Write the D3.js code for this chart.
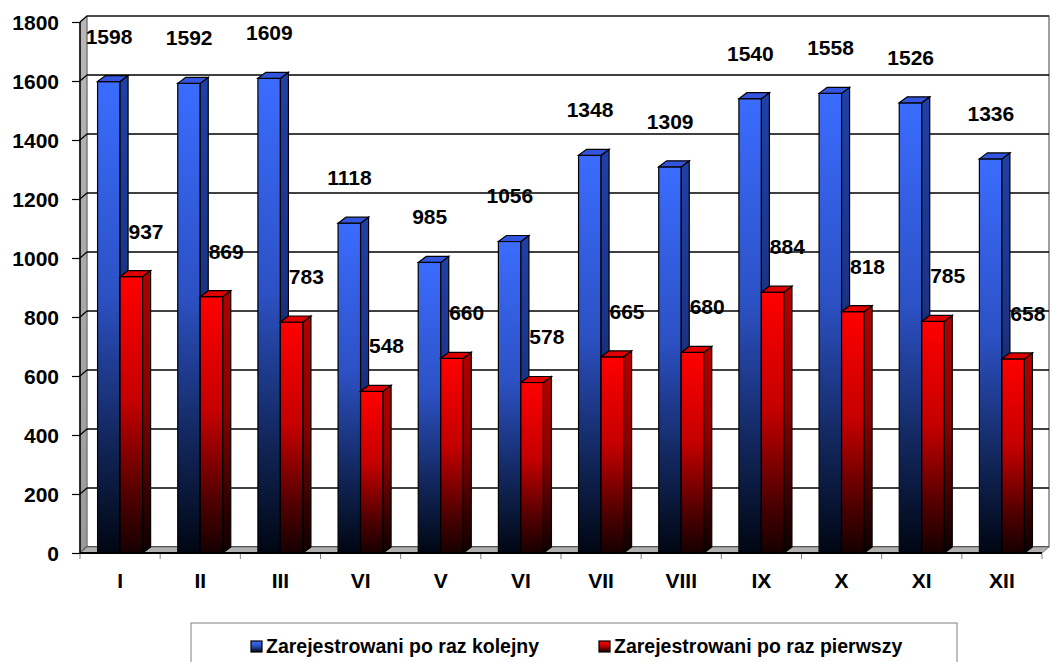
<!DOCTYPE html>
<html>
<head>
<meta charset="utf-8">
<script src="https://cdn.jsdelivr.net/npm/d3@7"></script>
<style>
  body { margin: 0; background: #fff; }
  svg text { font-family: "Liberation Sans", Arial, sans-serif; font-weight: bold; fill: #000; }
</style>
</head>
<body>
<svg id="chart" width="1054" height="662"></svg>
<script>
const months = ['I', 'II', 'III', 'VI', 'V', 'VI', 'VII', 'VIII', 'IX', 'X', 'XI', 'XII'];
const kolejny = [1598, 1592, 1609, 1118, 985, 1056, 1348, 1309, 1540, 1558, 1526, 1336];
const pierwszy = [937, 869, 783, 548, 660, 578, 665, 680, 884, 818, 785, 658];
const yTicks = [0, 200, 400, 600, 800, 1000, 1200, 1400, 1600, 1800];
const seriesNames = ['Zarejestrowani po raz kolejny', 'Zarejestrowani po raz pierwszy'];

const svg = d3.select('#chart');
const plotLeft = 80, plotRight = 1042, plotBottom = 553, plotTop = 22;
const wallDx = 7, wallDy = -6;   // depth of the walls
const barDx = 8, barDy = -6;     // depth of each column

const x = d3.scaleBand().domain(d3.range(months.length)).range([plotLeft, plotRight]);
const inner = d3.scaleBand().domain([0, 1]).range([0, x.bandwidth()]).paddingOuter(0.78);
const y = d3.scaleLinear().domain([0, 1800]).range([plotBottom, plotTop]);

// gradients
const defs = svg.append('defs');
function grad(id, stops) {
  const g = defs.append('linearGradient').attr('id', id)
    .attr('x1', 0).attr('y1', 0).attr('x2', 0).attr('y2', 1);
  stops.forEach(([o, c]) => g.append('stop').attr('offset', o).attr('stop-color', c));
}
grad('blueFront', [[0, '#3a6cff'], [0.45, '#2c51c4'], [0.8, '#0f214f'], [1, '#000612']]);
grad('blueSide', [[0, '#2140a6'], [0.45, '#1a3385'], [0.8, '#0a1636'], [1, '#00040c']]);
grad('redFront', [[0, '#ff0000'], [0.45, '#c40000'], [0.8, '#4f0000'], [1, '#160000']]);
grad('redSide', [[0, '#b30000'], [0.45, '#8a0000'], [0.8, '#360000'], [1, '#0e0000']]);
grad('wallGrey', [[0, '#b8b8b8'], [1, '#9a9a9a']]);

const fills = [
  { front: 'url(#blueFront)', side: 'url(#blueSide)', top: '#3355dd' },
  { front: 'url(#redFront)', side: 'url(#redSide)', top: '#e00000' }
];

// side wall (left)
svg.append('polygon')
  .attr('points', [[plotLeft, plotBottom], [plotLeft, plotTop], [plotLeft + wallDx, plotTop + wallDy], [plotLeft + wallDx, plotBottom + wallDy]].join(' '))
  .attr('fill', 'url(#wallGrey)').attr('stroke', '#808080').attr('stroke-width', 1);

// back wall
svg.append('rect')
  .attr('x', plotLeft + wallDx).attr('y', plotTop + wallDy)
  .attr('width', plotRight - plotLeft).attr('height', plotBottom - plotTop)
  .attr('fill', '#fff').attr('stroke', '#808080').attr('stroke-width', 1.5);

// gridlines on back and side wall
const grid = svg.append('g');
yTicks.forEach(v => {
  grid.append('line')
    .attr('x1', plotLeft + wallDx).attr('x2', plotRight + wallDx)
    .attr('y1', y(v) + wallDy).attr('y2', y(v) + wallDy)
    .attr('stroke', '#000').attr('stroke-width', v === 1800 ? 1.2 : 1.6);
  grid.append('line')
    .attr('x1', plotLeft).attr('x2', plotLeft + wallDx)
    .attr('y1', y(v)).attr('y2', y(v) + wallDy)
    .attr('stroke', '#000').attr('stroke-width', 1.2);
});

// floor
svg.append('polygon')
  .attr('points', [[plotLeft, plotBottom], [plotRight, plotBottom], [plotRight + wallDx, plotBottom + wallDy], [plotLeft + wallDx, plotBottom + wallDy]].join(' '))
  .attr('fill', '#b0b0b0').attr('stroke', '#808080').attr('stroke-width', 1);

// columns
const series = [kolejny, pierwszy];
months.forEach((m, i) => {
  const g = svg.append('g');
  series.forEach((vals, s) => {
    const x0 = x(i) + inner(s);
    const x1 = x0 + inner.bandwidth();
    const yt = y(vals[i]);
    const f = fills[s];
    g.append('rect')
      .attr('x', x0).attr('y', yt).attr('width', x1 - x0).attr('height', plotBottom - yt)
      .attr('fill', f.front).attr('stroke', '#000').attr('stroke-width', 1.2);
    g.append('polygon')
      .attr('points', [[x1, plotBottom], [x1 + barDx, plotBottom + barDy], [x1 + barDx, yt + barDy], [x1, yt]].join(' '))
      .attr('fill', f.side).attr('stroke', '#000').attr('stroke-width', 1.2);
    g.append('polygon')
      .attr('points', [[x0, yt], [x0 + barDx, yt + barDy], [x1 + barDx, yt + barDy], [x1, yt]].join(' '))
      .attr('fill', f.top).attr('stroke', '#000').attr('stroke-width', 1.2);
  });
});

// front category axis line
svg.append('line')
  .attr('x1', plotLeft).attr('x2', plotRight).attr('y1', plotBottom).attr('y2', plotBottom)
  .attr('stroke', '#000').attr('stroke-width', 2.2);

// category boundary ticks
d3.range(months.length + 1).forEach(k => {
  const xx = plotLeft + k * x.bandwidth();
  svg.append('line')
    .attr('x1', xx).attr('x2', xx).attr('y1', plotBottom + 1).attr('y2', plotBottom + 6)
    .attr('stroke', '#808080').attr('stroke-width', 1);
});

// value axis
const yAxis = svg.append('g')
  .attr('transform', `translate(${plotLeft},0)`)
  .call(d3.axisLeft(y).tickValues(yTicks).tickFormat(d3.format('d')).tickSize(8).tickPadding(13));
yAxis.select('.domain').remove();
yAxis.selectAll('.tick line').attr('stroke', '#000').attr('stroke-width', 1.2);
yAxis.selectAll('.tick text').style('font-size', '21px').attr('dy', '0.36em');
svg.append('line')
  .attr('x1', plotLeft).attr('x2', plotLeft).attr('y1', plotTop).attr('y2', plotBottom)
  .attr('stroke', '#000').attr('stroke-width', 1.5);

// category labels
svg.append('g').selectAll('text')
  .data(months)
  .join('text')
  .attr('x', (d, i) => x(i) + x.bandwidth() / 2)
  .attr('y', 588)
  .attr('text-anchor', 'middle')
  .style('font-size', '21px')
  .text(d => d);

// data labels
const labelShift = [29, 66];
series.forEach((vals, s) => {
  svg.append('g').selectAll('text')
    .data(vals)
    .join('text')
    .attr('x', (d, i) => x(i) + labelShift[s])
    .attr('y', d => y(d) - 38)
    .attr('text-anchor', 'middle')
    .style('font-size', '21px')
    .text(d => d);
});

// legend
const legend = svg.append('g');
legend.append('rect')
  .attr('x', 191).attr('y', 623).attr('width', 766).attr('height', 60)
  .attr('fill', '#fff').attr('stroke', '#808080').attr('stroke-width', 1);
const legendX = [251, 599];
seriesNames.forEach((name, s) => {
  legend.append('rect')
    .attr('x', legendX[s]).attr('y', 641).attr('width', 11).attr('height', 11)
    .attr('fill', s === 0 ? 'url(#blueFront)' : 'url(#redFront)')
    .attr('stroke', '#000').attr('stroke-width', 1.2);
  legend.append('text')
    .attr('x', legendX[s] + 15).attr('y', 653)
    .style('font-size', '19.5px')
    .text(name);
});
</script>
</body>
</html>
